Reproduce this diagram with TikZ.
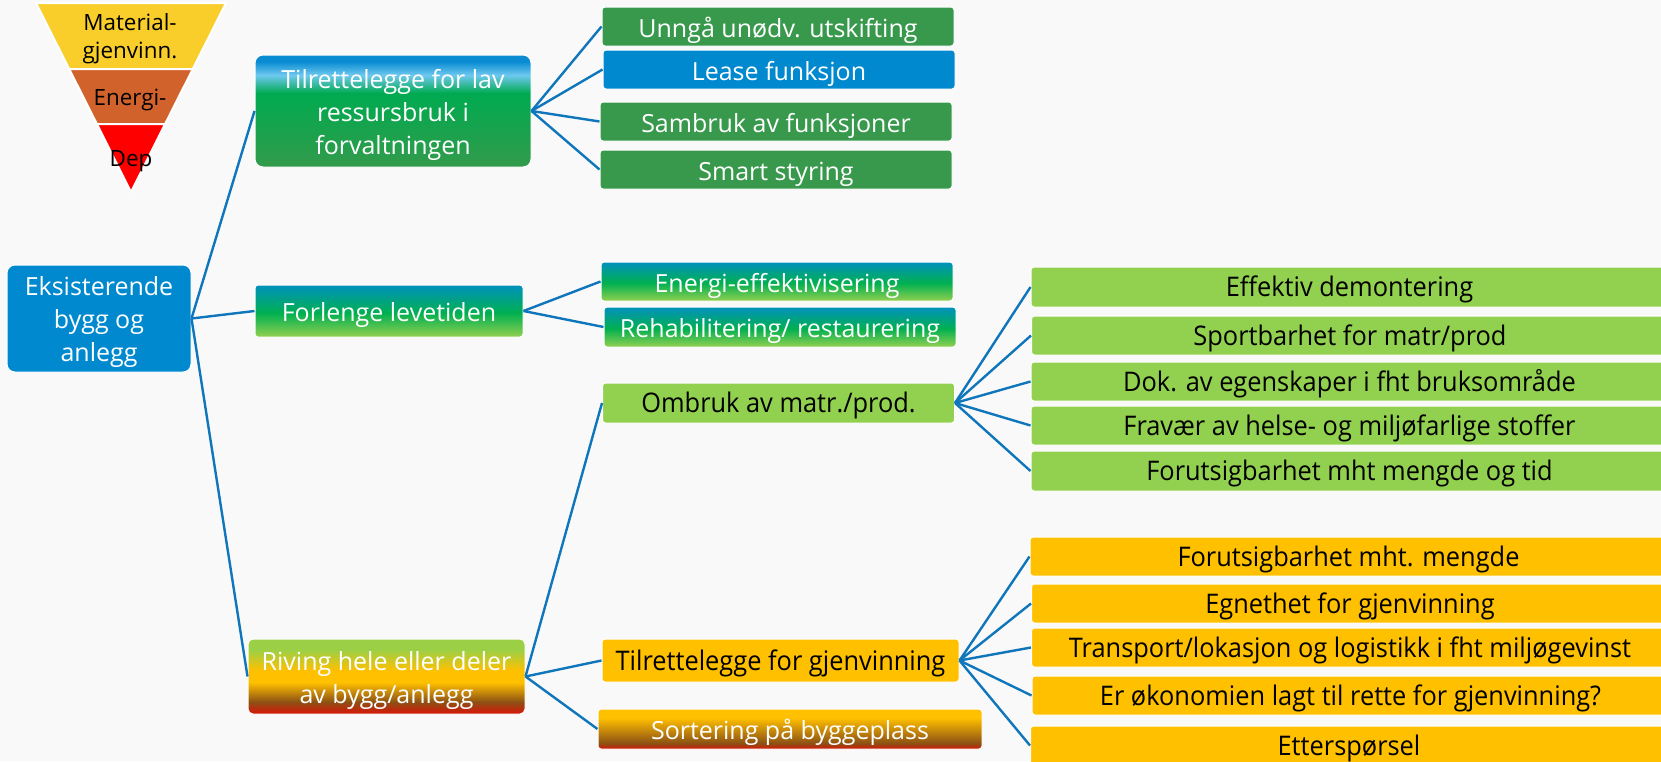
\documentclass[tikz,border=0pt]{standalone}
\usepackage{fontspec}
\setmainfont{Open Sans}
\newfontfamily\tallfont[FakeStretch=0.94]{Open Sans}
\newcommand{\topstrut}{\rule{0pt}{13pt}}
\definecolor{bgcol}{RGB}{249,249,249}
\definecolor{rootblue}{RGB}{0,137,207}
\definecolor{darkgreen}{RGB}{56,153,77}
\definecolor{limegreen}{RGB}{146,208,80}
\definecolor{amber}{RGB}{255,192,0}
\definecolor{linkblue}{RGB}{16,118,188}
\definecolor{pyrayellow}{RGB}{249,205,42}
\definecolor{pyraorange}{RGB}{210,98,44}
\definecolor{pyrared}{RGB}{255,0,0}
\definecolor{tlavblue}{RGB}{10,140,210}
\definecolor{tlavlight}{RGB}{110,200,240}
\definecolor{tlavgreen}{RGB}{0,170,80}
\definecolor{tlavdark}{RGB}{50,155,75}
\definecolor{fortop}{RGB}{0,145,190}
\definecolor{formid}{RGB}{0,176,80}
\definecolor{forbot}{RGB}{146,208,80}
\definecolor{rivtop}{RGB}{155,208,70}
\definecolor{rivbrown}{RGB}{140,80,20}
\definecolor{rivred}{RGB}{205,30,10}
\pgfdeclareverticalshading{tlavshade}{100bp}{color(0bp)=(tlavdark); color(25bp)=(tlavdark); color(58bp)=(tlavgreen); color(66bp)=(tlavlight); color(72bp)=(tlavblue); color(100bp)=(tlavblue)}
\pgfdeclareverticalshading{forshade}{100bp}{color(0bp)=(forbot); color(25bp)=(forbot); color(48bp)=(formid); color(75bp)=(fortop); color(100bp)=(fortop)}
\pgfdeclareverticalshading{rivshade}{100bp}{color(0bp)=(rivred); color(26.5bp)=(rivred); color(33bp)=(rivbrown); color(46bp)=(amber); color(54bp)=(amber); color(68bp)=(rivtop); color(100bp)=(rivtop)}
\pgfdeclareverticalshading{sortshade}{100bp}{color(0bp)=(rivred); color(26bp)=(rivred); color(32bp)=(rivbrown); color(64bp)=(amber); color(75bp)=(amber); color(100bp)=(amber)}
\begin{document}
\begin{tikzpicture}[x=0.5pt,y=-0.5pt,
    box/.style={draw=white,line width=0.5pt,rounded corners=1.5pt,inner sep=0pt,align=center,
      text=white,font=\fontsize{12.5}{16.5}\selectfont},
    leaf/.style={box,minimum width=176pt,minimum height=19.5pt,text height=13.6pt,text depth=3pt},
    tall/.style={text=black,font=\tallfont\fontsize{13.5}{16}\selectfont,text height=12.9pt,text depth=3.2pt},
    wide/.style={box,tall,minimum width=318.5pt,minimum height=19.5pt},
    link/.style={draw=linkblue,line width=1.2pt},
    pyra/.style={draw=white,line width=1pt},
    pyratext/.style={align=center,inner sep=0pt,font=\fontsize{11.2}{14}\selectfont}]
    \clip (0,0) rectangle (1661,761);
    \fill[bgcol] (0,0) rectangle (1661,761);
    \filldraw[pyra,fill=pyrayellow] (36,3) -- (226,3) -- (192.8,69) -- (69.2,69) -- cycle;
    \filldraw[pyra,fill=pyraorange] (69.2,69) -- (192.8,69) -- (165.1,124) -- (96.9,124) -- cycle;
    \filldraw[pyra,fill=pyrared] (96.9,124) -- (165.1,124) -- (131,192) -- cycle;
    \node[pyratext] (mat) at (130,39) {Material-\\gjenvinn.};
    \node[pyratext] (ene) at (130,100) {Energi-};
    \node[pyratext] (dep) at (131,161) {Dep};

    \node[box,fill=rootblue,rounded corners=4pt,minimum width=92pt,minimum height=53.5pt] (root) at (99,318.5) {\topstrut Eksisterende\\bygg og\\anlegg};
    \node[box,shading=tlavshade,rounded corners=4pt,minimum width=138pt,minimum height=56pt] (tlav) at (393,111) {\topstrut Tilrettelegge for lav\\ressursbruk i\\forvaltningen};
    \node[leaf,shading=forshade,minimum width=134pt,minimum height=26pt] (forl) at (389,311) {Forlenge levetiden};
    \node[box,shading=rivshade,rounded corners=2.5pt,minimum width=138.5pt,minimum height=37.5pt] (riv) at (386.5,676.5) {\topstrut Riving hele eller deler\\av bygg/anlegg};

    \node[leaf,fill=darkgreen] (unnga) at (778,26.5) {Unngå unødv. utskifting};
    \node[leaf,fill=rootblue] (lease) at (779,69.5) {Lease funksjon};
    \node[leaf,fill=darkgreen] (sambruk) at (776,121.5) {Sambruk av funksjoner};
    \node[leaf,fill=darkgreen] (smart) at (776,169.5) {Smart styring};
    \node[leaf,shading=forshade] (energi) at (777,281.5) {Energi-effektivisering};
    \node[leaf,shading=forshade,minimum height=20pt] (rehab) at (780,327) {Rehabilitering/ restaurering};
    \node[leaf,tall,fill=limegreen,minimum height=20pt] (ombruk) at (778.5,403) {Ombruk av matr./prod.};
    \node[leaf,tall,fill=amber,minimum width=178.5pt,minimum height=21.5pt] (tgjen) at (780.5,660.5) {Tilrettelegge for gjenvinning};
    \node[leaf,shading=sortshade,minimum width=192pt,minimum height=20pt] (sort) at (790,729) {Sortering på byggeplass};

    \node[wide,fill=limegreen,minimum height=20pt] (eff) at (1349.5,287) {Effektiv demontering};
    \node[wide,fill=limegreen] (sport) at (1350,335.5) {Sportbarhet for matr/prod};
    \node[wide,fill=limegreen] (dok) at (1349.5,381.5) {Dok. av egenskaper i fht bruksområde};
    \node[wide,fill=limegreen] (frav) at (1349.5,425.5) {Fravær av helse- og miljøfarlige stoffer};
    \node[wide,fill=limegreen,minimum height=20pt] (forut) at (1349.5,471) {Forutsigbarhet mht mengde og tid};

    \node[wide,fill=amber] (fmengde) at (1348.5,556.5) {Forutsigbarhet mht. mengde};
    \node[wide,fill=amber] (egn) at (1350,603.5) {Egnethet for gjenvinning};
    \node[wide,fill=amber] (trans) at (1350,647.5) {Transport/lokasjon og logistikk i fht miljøgevinst};
    \node[wide,fill=amber] (okon) at (1350.5,695.5) {Er økonomien lagt til rette for gjenvinning?};
    \node[wide,fill=amber] (etter) at (1349,745.5) {Etterspørsel};

    \draw[link] (root.east) -- (tlav.west);
    \draw[link] (root.east) -- (forl.west);
    \draw[link] (root.east) -- (riv.west);
    \foreach \n in {unnga,lease,sambruk,smart}
      \draw[link] (tlav.east) -- (\n.west);
    \foreach \n in {energi,rehab}
      \draw[link] (forl.east) -- (\n.west);
    \foreach \n in {ombruk,tgjen,sort}
      \draw[link] (riv.east) -- (\n.west);
    \foreach \n in {eff,sport,dok,frav,forut}
      \draw[link] (ombruk.east) -- (\n.west);
    \foreach \n in {fmengde,egn,trans,okon,etter}
      \draw[link] (tgjen.east) -- (\n.west);
\end{tikzpicture}
\end{document}
